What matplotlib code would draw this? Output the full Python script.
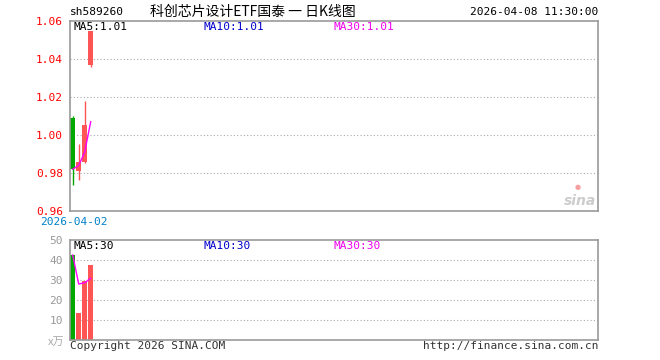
import matplotlib
matplotlib.use("Agg")
import matplotlib.pyplot as plt

# K-line data
opens = [1.009, 0.981, 0.986, 1.037]
closes = [0.982, 0.986, 1.005, 1.055]
highs = [1.010, 0.995, 1.018, 1.055]
lows = [0.9735, 0.9765, 0.9855, 1.036]
ma5 = [0.982, 0.984, 0.991, 1.007]

volumes = [42.5, 13.7, 29.7, 37.7]
vol_ma5 = [42.5, 28.0, 28.6, 30.9]

price_ticks = [0.96, 0.98, 1.00, 1.02, 1.04, 1.06]
vol_ticks = [10, 20, 30, 40, 50]

RED = "#ff5555"
GREEN = "#00a800"
FRAME = "#999999"
MONO = "DejaVu Sans Mono"
CJK = ["Noto Sans CJK SC", "DejaVu Sans"]

fig = plt.figure(figsize=(6.6, 3.6), dpi=100)
fig.patch.set_facecolor("white")

x0 = 70 / 660
w = 528 / 660
ax = fig.add_axes([x0, (360 - 211) / 360, w, 190 / 360])
axv = fig.add_axes([x0, 20 / 360, w, 100 / 360])

idx = list(range(len(opens)))
up_col = [RED if c >= o else GREEN for o, c in zip(opens, closes)]

# candles
ax.vlines(idx, lows, highs, colors=up_col, linewidth=1.0)
ax.bar(idx, [c - o for o, c in zip(opens, closes)], bottom=opens,
       width=0.85, color=up_col, linewidth=0)
ax.plot(idx, ma5, color="#ff00ff", linewidth=1.0)

axv.bar(idx, volumes, width=0.85, color=up_col, linewidth=0)
axv.plot(idx, vol_ma5, color="#ff00ff", linewidth=1.0)

for a in (ax, axv):
    a.set_xlim(-0.45, -0.45 + 528 / 6)
    a.set_xticks([])
    for s in a.spines.values():
        s.set_color(FRAME)
        s.set_linewidth(1.2)
    a.tick_params(axis="y", length=0, pad=5)

ax.set_ylim(0.96, 1.06)
ax.set_yticks(price_ticks)
ax.set_yticklabels([f"{v:.2f}" for v in price_ticks], color="red",
                   fontfamily=MONO, fontsize=8)
for v in price_ticks[1:-1]:
    ax.axhline(v, color="#aaaaaa", linestyle=(0, (1, 2)), linewidth=0.8, zorder=0)

axv.set_ylim(0, 50)
axv.set_yticks(vol_ticks)
axv.set_yticklabels([str(v) for v in vol_ticks], color="#999999",
                    fontfamily=MONO, fontsize=8)
for v in vol_ticks[:-1]:
    axv.axhline(v, color="#aaaaaa", linestyle=(0, (1, 2)), linewidth=0.8, zorder=0)

# header texts
fig.text(70 / 660, 1 - 12 / 360, "sh589260", fontfamily=MONO, fontsize=8,
         va="center", ha="left")
fig.text(150 / 660, 1 - 12 / 360, "科创芯片设计ETF国泰 一 日K线图", family=CJK,
         fontsize=10, va="center", ha="left")
fig.text(598 / 660, 1 - 12 / 360, "2026-04-08 11:30:00", fontfamily=MONO,
         fontsize=8, va="center", ha="right")

# MA labels
for y, vals in ((27, "1.01"), (246, "30")):
    fig.text(74 / 660, 1 - y / 360, f"MA5:{vals}", fontfamily=MONO, fontsize=8,
             va="center", color="black")
    fig.text(204 / 660, 1 - y / 360, f"MA10:{vals}", fontfamily=MONO, fontsize=8,
             va="center", color="#0000cc")
    fig.text(334 / 660, 1 - y / 360, f"MA30:{vals}", fontfamily=MONO, fontsize=8,
             va="center", color="#ee00ee")

fig.text(40 / 660, 1 - 222 / 360, "2026-04-02", fontfamily=MONO, fontsize=8,
         va="center", ha="left", color="#0080c8")
fig.text(64 / 660, 1 - 342 / 360, "x万", family=CJK, fontsize=8,
         va="center", ha="right", color="#aaaaaa")
fig.text(70 / 660, 1 - 346 / 360, "Copyright 2026 SINA.COM", fontfamily=MONO,
         fontsize=8, va="center", ha="left", color="#333333")
fig.text(598 / 660, 1 - 346 / 360, "http://finance.sina.com.cn", fontfamily=MONO,
         fontsize=8, va="center", ha="right", color="#333333")

# sina watermark
fig.text(596 / 660, 1 - 201 / 360, "sina", fontsize=10, fontweight="bold",
         style="italic", ha="right", va="center", color="#cccccc")
fig.text(578 / 660, 1 - 187 / 360, "●", fontsize=5, ha="center", va="center",
         color="#f4a0a0")

fig.savefig("out.png", dpi=100)
